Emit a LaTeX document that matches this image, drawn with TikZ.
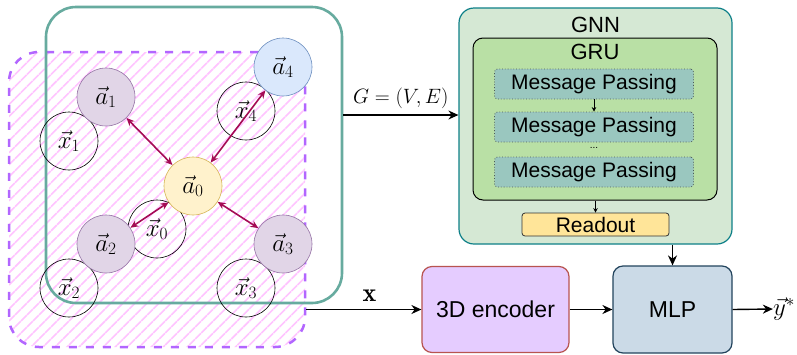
\documentclass[tikz,border=0pt]{standalone}
\usepackage{fontspec}
\setsansfont{Liberation Sans}
\usetikzlibrary{arrows.meta,patterns.meta}
\definecolor{tealout}{HTML}{67AB9F}
\definecolor{purpled}{HTML}{B266FF}
\definecolor{hatch}{HTML}{FFC4FF}
\definecolor{edgec}{HTML}{A50B55}
\definecolor{gnnfill}{HTML}{D5E8D4}
\definecolor{gnndraw}{HTML}{0E8088}
\definecolor{grufill}{HTML}{B9E0A5}
\definecolor{mpfill}{HTML}{9AC7BF}
\definecolor{mpdraw}{HTML}{4D5A58}
\definecolor{rofill}{HTML}{FFE599}
\definecolor{encfill}{HTML}{E5CCFF}
\definecolor{encdraw}{HTML}{B85450}
\definecolor{mlpfill}{HTML}{CBDAE7}
\definecolor{mlpdraw}{HTML}{23445D}
\definecolor{afill}{HTML}{E1D5E7}
\definecolor{adraw}{HTML}{9673A6}
\definecolor{a0fill}{HTML}{FFF2CC}
\definecolor{a0draw}{HTML}{D6B656}
\definecolor{a4fill}{HTML}{DAE8FC}
\definecolor{a4draw}{HTML}{6C8EBF}
\tikzset{
  atom/.style={circle, minimum size=58pt, inner sep=0pt, draw=adraw, fill=afill, line width=0.6pt, font=\fontsize{26}{30}\selectfont},
  xcirc/.style={circle, minimum size=58pt, inner sep=0pt, draw=black, line width=0.6pt, font=\fontsize{25}{29}\selectfont},
  bond/.style={edgec, line width=1.6pt, {Stealth[length=8pt,width=7pt]}-{Stealth[length=8pt,width=7pt]}},
  flow/.style={black, line width=1.4pt, -{Stealth[length=10pt,width=9pt]}},
  small/.style={black, line width=0.8pt, -{Stealth[length=4.5pt,width=4.5pt]}},
  mp/.style={draw=mpdraw, dotted, line width=0.8pt, fill=mpfill, rounded corners=3pt, minimum width=199pt, minimum height=30pt, inner sep=0pt, font=\sffamily\fontsize{21}{24}\selectfont},
  blk/.style={rounded corners=10pt, inner sep=0pt, line width=1.2pt, font=\sffamily\fontsize{23}{26}\selectfont},
  lbl/.style={inner sep=0pt, font=\sffamily\fontsize{22}{25}\selectfont},
}
\begin{document}
\begin{tikzpicture}[x=1pt,y=-1pt]
\useasboundingbox[fill=white] (0,0) rectangle (797,354);

% hatched region
\node (region) [draw=purpled, line width=2.5pt, dash pattern=on 8pt off 9pt, rounded corners=30pt,
  pattern={Lines[angle=45,distance=8.5pt,line width=1.6pt]}, pattern color=hatch,
  minimum width=296pt, minimum height=295pt, inner sep=0pt] at (157,199.5) {};

% graph frame
\node (graph) [draw=tealout, line width=2.6pt, rounded corners=30pt, minimum width=296pt, minimum height=296pt, inner sep=0pt] at (194,155) {};

% x circles
\node (x1) [xcirc] at (69,141) {$\vec{x}_1$};
\node (x4) [xcirc] at (246,111) {$\vec{x}_4$};
\node (x0) [xcirc] at (157,229) {$\vec{x}_0$};
\node (x2) [xcirc] at (69,288) {$\vec{x}_2$};
\node (x3) [xcirc] at (246,288) {$\vec{x}_3$};

% atoms
\node (a1) [atom] at (106,97) {$\vec{a}_1$};
\node (a4) [atom, fill=a4fill, draw=a4draw] at (283,67) {$\vec{a}_4$};
\node (a0) [atom, fill=a0fill, draw=a0draw] at (193,186) {$\vec{a}_0$};
\node (a2) [atom] at (106,244) {$\vec{a}_2$};
\node (a3) [atom] at (283,244) {$\vec{a}_3$};

\draw[bond] (a0) -- (a1);
\draw[bond] (a0) -- (a4);
\draw[bond] (a0) -- (a2);
\draw[bond] (a0) -- (a3);

% GNN
\node (gnn) [blk, draw=gnndraw, fill=gnnfill, rounded corners=15pt, minimum width=273pt, minimum height=236pt] at (595.5,126) {};
\node (gnnl) [lbl] at (595.5,25) {GNN};
\node (gru) [blk, draw=black, fill=grufill, line width=1pt, minimum width=244pt, minimum height=162pt] at (595,119) {};
\node (grul) [lbl] at (595,52) {GRU};
\node (mp1) [mp] at (594,84) {Message Passing};
\node (mp2) [mp] at (594,127) {Message Passing};
\node (mp3) [mp] at (594,172) {Message Passing};
\node (dots) [inner sep=0pt, font=\sffamily\fontsize{10}{12}\selectfont] at (594,148) {...};
\draw[small] (mp1) -- (mp2);
\node (ro) [draw=black!80, fill=rofill, rounded corners=3pt, line width=0.8pt, minimum width=147pt, minimum height=23pt, inner sep=0pt, font=\sffamily\fontsize{21}{24}\selectfont] at (595.5,224.5) {Readout};
\draw[small] (gru.south -| ro.north) -- (ro.north);

% encoder and MLP
\node (enc) [blk, draw=encdraw, fill=encfill, minimum width=147pt, minimum height=86pt] at (495.5,309.5) {3D encoder};
\node (mlp) [blk, draw=mlpdraw, fill=mlpfill, minimum width=119pt, minimum height=87pt] at (672.5,309.5) {MLP};
\node (ystar) [inner sep=0pt, font=\fontsize{25}{29}\selectfont] at (784,309) {$\vec{y}^{*}$};

\coordinate (gin) at (0,115);
\draw[flow] (graph.east |- gin) -- (gnn.west |- gin) node[midway, above=6pt, inner sep=0pt, font=\fontsize{21}{24}\selectfont] (glbl) {$G=(V,E)$};
\draw[flow] (region.east |- enc.west) -- (enc.west) node[pos=0.55, above=7pt, inner sep=0pt, font=\fontsize{26}{30}\selectfont] (xlbl) {$\mathbf{x}$};
\draw[flow] (enc) -- (mlp);
\draw[flow] (mlp.north |- gnn.south) -- (mlp.north);
\draw[flow] (mlp.east) -- (ystar.west);
\end{tikzpicture}
\end{document}
